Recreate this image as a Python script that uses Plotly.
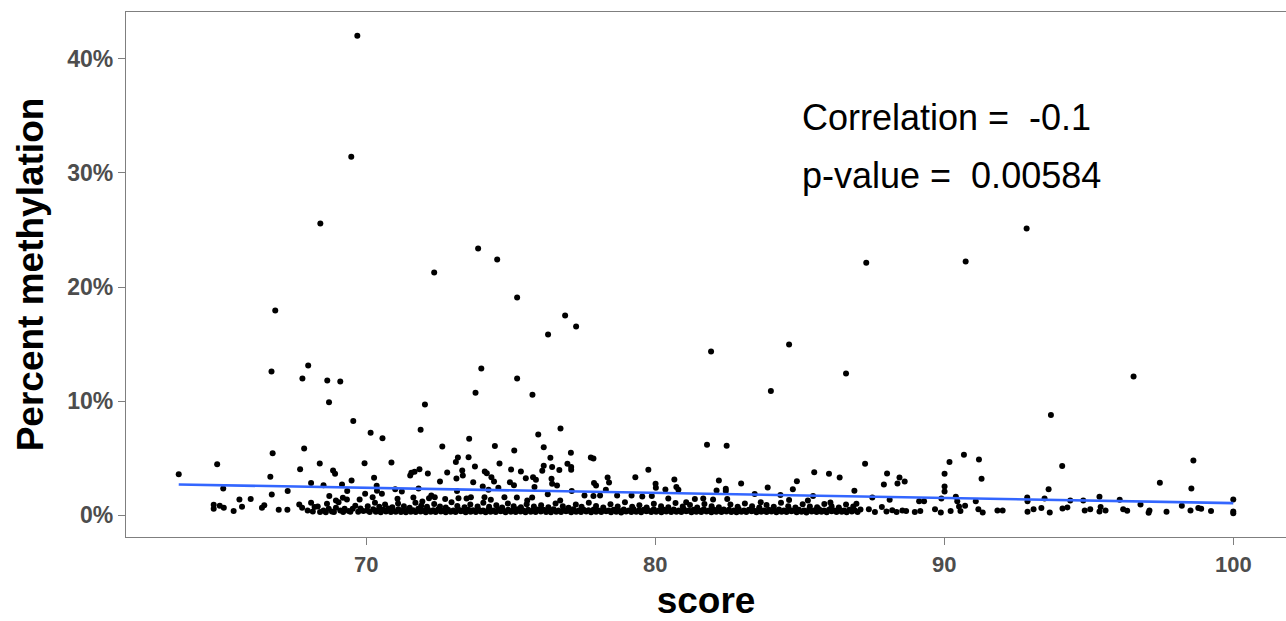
import numpy as np
import plotly.graph_objects as go

# ---- high outliers (score, percent methylation) ----
high_score = [69.69, 69.48, 68.41, 72.35, 73.87, 74.53, 75.22, 76.29, 76.88, 77.26,
              66.85, 66.72, 67.99, 67.79, 68.65, 69.10, 68.71, 73.98, 75.22, 73.78,
              75.75, 72.03, 69.55, 70.15, 70.56, 71.88, 81.93, 84.63, 84.00, 86.60,
              87.30, 90.74, 92.85, 93.69, 96.55, 76.72, 75.95, 81.79, 82.47, 76.14,
              66.76, 67.85, 72.63, 73.56, 74.45, 75.12, 77.08, 73.17, 73.54, 76.37,
              77.77, 90.68]
high_pct = [42.0, 31.42, 25.56, 21.27, 23.37, 22.41, 19.08, 15.84, 17.51, 16.54,
            17.94, 12.60, 13.13, 11.99, 11.82, 11.73, 9.92, 12.87, 11.99, 10.75,
            10.57, 9.72, 8.28, 7.25, 6.75, 7.50, 14.35, 14.97, 10.90, 12.43,
            22.14, 22.23, 25.12, 8.80, 12.17, 7.61, 7.09, 6.19, 6.10, 5.98,
            5.45, 5.86, 6.04, 6.71, 6.07, 5.69, 5.49, 5.08, 5.10, 5.05,
            5.08, 5.31]

# ---- middle band ----
mid_score = [63.51, 64.84, 65.05, 65.61, 66.00, 66.68, 66.73, 67.28, 67.71, 68.09,
             68.39, 68.52, 68.72, 68.85, 68.92, 69.16, 69.49, 69.34, 69.19, 68.95,
             69.33,
             69.94, 70.87, 70.27, 70.36, 73.10, 73.76, 74.61, 75.01, 75.35, 71.56,
             71.67, 71.84, 72.13, 71.52, 72.55, 72.80, 73.12, 73.32, 73.34, 73.70,
             74.10, 74.17, 74.33, 74.42, 74.97, 75.11, 75.52, 75.77, 75.87, 75.82,
             74.03, 74.23, 74.57, 71.23, 71.81, 71.00, 72.25, 70.54, 69.96, 70.22,
             69.77, 71.08, 71.63, 71.94, 72.17, 72.37, 72.73, 73.19, 73.47, 73.62,
             74.09, 74.31, 74.78, 75.21, 75.57, 75.74, 73.14, 70.37,
             76.96, 77.09, 77.09, 76.14, 76.43, 76.68, 76.09, 76.41, 76.43, 76.60,
             79.76, 79.31, 77.88, 77.95, 78.35, 78.40, 80.01, 80.02, 80.66, 80.73,
             80.80, 80.35, 82.20, 82.12, 77.11, 76.28, 76.71, 77.55, 77.86, 78.09,
             78.29, 78.68, 79.18, 79.55, 79.88, 80.45, 81.07, 81.37, 81.66, 82.00,
             77.86,
             82.97, 82.44, 83.44, 83.89, 84.33, 84.76, 84.90, 85.50, 86.01, 86.38,
             87.26, 86.89, 87.51, 88.02, 87.91, 88.38, 88.45, 88.63, 88.11, 85.46,
             84.63, 85.28, 86.06, 86.96, 82.49, 83.65, 82.44,
             91.20, 90.18, 90.01, 91.29, 90.01, 90.01, 93.61, 89.13, 89.30, 89.90,
             90.40, 90.45, 91.09, 92.87, 92.88, 93.47, 94.36, 94.81, 94.08,
             98.62, 97.46, 98.55, 100.0, 95.37, 96.07]
mid_pct = [3.61, 4.49, 2.36, 1.40, 1.43, 3.39, 1.84, 2.13, 4.05, 2.83,
           4.55, 2.65, 1.69, 3.94, 3.65, 2.71, 3.06, 2.13, 1.55, 1.31,
           1.40,
           4.58, 4.64, 3.30, 2.60, 4.67, 4.29, 4.55, 4.03, 3.85, 3.74,
           3.82, 4.05, 3.68, 3.50, 2.98, 3.76, 3.24, 3.94, 3.50, 2.91,
           3.85, 3.70, 3.35, 2.98, 2.91, 2.65, 3.26, 3.35, 3.12, 2.48,
           2.54, 2.25, 2.42, 2.10, 2.36, 2.30, 1.75, 1.90, 1.90, 1.60,
           1.40, 1.46, 1.58, 1.23, 1.51, 1.60, 1.43, 1.51, 1.49, 1.60,
           1.60, 1.37, 1.60, 1.58, 1.31, 1.58, 2.13, 2.16,
           4.52, 4.23, 4.00, 4.35, 4.23, 3.97, 3.91, 3.21, 2.77, 2.63,
           4.00, 3.35, 2.83, 2.63, 3.33, 2.89, 2.77, 2.42, 3.15, 2.48,
           2.25, 2.28, 3.06, 2.19, 2.13, 1.86, 1.31, 1.75, 1.69, 1.75,
           2.25, 1.75, 1.75, 1.66, 1.69, 1.49, 1.16, 1.43, 1.49, 1.40,
           4.99,
           2.80, 2.34, 1.87, 2.45, 1.78, 2.30, 3.00, 3.79, 3.65, 3.33,
           4.52, 2.16, 1.58, 3.68, 2.71, 2.80, 3.33, 2.98, 1.37, 1.69,
           1.34, 1.31, 1.14, 1.02, 1.43, 1.16, 2.13,
           4.90, 4.67, 3.65, 3.21, 2.54, 2.10, 2.30, 1.25, 1.25, 1.49,
           1.64, 1.25, 1.25, 1.58, 1.25, 1.49, 1.31, 1.31, 4.33,
           4.81, 2.86, 2.36, 1.40, 1.64, 1.37]

# ---- low band (below ~1.2 %) ----
low_score = [64.72, 64.72, 64.93, 65.07, 65.41, 65.70, 66.39, 66.47, 66.97, 67.27,
             67.68, 67.78, 67.97, 68.09, 68.21, 68.32, 68.52, 68.70, 68.81, 68.95,
             69.10, 69.25, 69.39, 69.53, 68.64, 69.04,
             68.15, 68.40, 68.60, 68.88, 69.20, 69.45, 69.62, 69.72, 69.80, 69.90,
             70.03, 70.12, 70.24, 70.33, 70.41, 70.50, 70.59, 70.68, 70.76, 70.85,
             70.93, 71.02, 71.11, 71.20, 71.28, 71.37, 71.45, 71.54, 71.62, 71.71,
             71.80, 71.88, 71.97, 72.06, 72.14, 72.23, 72.32, 72.40, 72.49, 72.58,
             72.66, 72.75, 72.83, 72.92, 73.01, 73.09, 73.18, 73.27, 73.35, 73.44,
             73.53, 73.61, 73.70, 73.79, 73.87, 73.96, 74.04, 74.13, 74.22, 74.30,
             74.39, 74.48, 74.56, 74.65, 74.74, 74.82, 74.91, 75.00, 75.08, 75.17,
             75.25, 75.34, 75.43, 75.51, 75.60, 75.69, 75.77, 75.86, 75.95,
             70.05, 70.30, 70.45, 70.65, 70.90, 71.10, 71.30, 71.50, 71.70, 71.90,
             72.10, 72.35, 72.55, 72.75, 72.95, 73.15, 73.40, 73.60, 73.85, 74.05,
             74.25, 74.50, 74.70, 74.90, 75.10, 75.35, 75.55, 75.80,
             76.04, 76.13, 76.22, 76.31, 76.39, 76.48, 76.57, 76.65, 76.74, 76.83,
             76.91, 77.00, 77.09, 77.17, 77.26, 77.35, 77.43, 77.52, 77.61, 77.69,
             77.78, 77.87, 77.95, 78.04, 78.13, 78.21, 78.30, 78.39, 78.47, 78.56,
             78.65, 78.73, 78.82, 78.91, 78.99, 79.08, 79.17, 79.25, 79.34, 79.43,
             79.51, 79.60, 79.69, 79.77, 79.86, 79.95, 80.03, 80.12, 80.21, 80.29,
             80.38, 80.47, 80.55, 80.64, 80.73, 80.81, 80.90, 80.99, 81.07, 81.16,
             81.25, 81.33, 81.42, 81.51, 81.59, 81.68, 81.77, 81.85, 81.94, 82.03,
             82.11, 82.20, 82.29, 82.37,
             76.05, 76.30, 76.55, 76.80, 77.00, 77.25, 77.45, 77.70, 77.95, 78.20,
             78.45, 78.70, 78.95, 79.20, 79.45, 79.70, 79.95, 80.20, 80.45, 80.70,
             80.95, 81.20, 81.45, 81.70, 81.95, 82.20,
             82.46, 82.55, 82.63, 82.72, 82.81, 82.89, 82.98, 83.07, 83.15, 83.24,
             83.33, 83.41, 83.50, 83.59, 83.67, 83.76, 83.85, 83.93, 84.02, 84.11,
             84.19, 84.28, 84.37, 84.45, 84.54, 84.63, 84.71, 84.80, 84.89, 84.97,
             85.06, 85.15, 85.23, 85.32, 85.41, 85.49, 85.58, 85.67, 85.75, 85.84,
             85.93, 86.01, 86.10, 86.19, 86.27, 86.36, 86.45, 86.53, 86.62, 86.71,
             86.80, 86.90, 87.00, 87.10,
             82.60, 82.85, 83.10, 83.35, 83.60, 83.85, 84.10, 84.35, 84.60, 84.85,
             85.10, 85.35, 85.60, 85.85, 86.10, 86.35, 86.60, 86.85,
             87.39, 87.60, 87.84, 88.00, 88.20, 88.35, 88.55,
             90.51, 90.72, 91.18, 91.33, 90.56, 90.22, 89.88, 89.68, 89.17, 88.98,
             88.68, 91.84, 92.02, 92.88, 93.09, 93.36, 93.65, 94.09, 94.26, 94.86,
             95.05,
             100.0, 100.0, 95.41, 95.37, 95.58, 96.19, 96.33, 96.79, 97.10, 97.07,
             97.69, 98.22, 98.52, 98.79, 98.89, 99.23]
low_pct = [0.94, 0.59, 0.85, 0.67, 0.38, 0.76, 0.67, 0.88, 0.50, 0.50,
           0.96, 0.67, 0.44, 1.11, 0.73, 0.79, 0.44, 0.59, 0.35, 0.67,
           0.44, 0.59, 0.38, 0.59, 1.02, 1.16,
           0.35, 0.30, 0.28, 0.30, 0.30, 0.32, 0.85, 0.32, 0.60, 0.38,
           0.42, 0.30, 0.55, 0.33, 0.45, 0.28, 0.50, 0.35, 0.60, 0.30,
           0.44, 0.32, 0.55, 0.30, 0.42, 0.27, 0.50, 0.33, 0.45, 0.30,
           0.58, 0.35, 0.42, 0.28, 0.50, 0.33, 0.45, 0.30, 0.55, 0.35,
           0.42, 0.28, 0.50, 0.33, 0.44, 0.30, 0.55, 0.36, 0.42, 0.28,
           0.50, 0.33, 0.45, 0.30, 0.55, 0.35, 0.42, 0.28, 0.50, 0.33,
           0.44, 0.30, 0.55, 0.36, 0.42, 0.28, 0.50, 0.33, 0.45, 0.30,
           0.55, 0.35, 0.42, 0.28, 0.50, 0.33, 0.45, 0.30, 0.52,
           0.80, 1.10, 0.75, 0.95, 0.72, 1.05, 0.80, 0.68, 1.10, 0.85,
           0.75, 1.00, 0.78, 0.70, 1.15, 0.82, 0.72, 0.95, 0.78, 1.12,
           0.75, 0.90, 0.70, 1.05, 0.80, 0.72, 0.98, 0.78,
           0.35, 0.50, 0.30, 0.44, 0.28, 0.55, 0.33, 0.42, 0.30, 0.50,
           0.36, 0.44, 0.28, 0.55, 0.33, 0.42, 0.30, 0.50, 0.35, 0.45,
           0.28, 0.52, 0.33, 0.42, 0.30, 0.55, 0.36, 0.44, 0.28, 0.50,
           0.33, 0.42, 0.25, 0.52, 0.35, 0.44, 0.30, 0.55, 0.33, 0.42,
           0.28, 0.50, 0.36, 0.44, 0.30, 0.55, 0.33, 0.42, 0.28, 0.50,
           0.35, 0.45, 0.30, 0.52, 0.33, 0.42, 0.30, 0.55, 0.36, 0.44,
           0.28, 0.50, 0.33, 0.42, 0.30, 0.55, 0.35, 0.44, 0.28, 0.50,
           0.33, 0.42, 0.30, 0.52,
           0.90, 0.72, 1.05, 0.80, 0.68, 0.95, 0.75, 1.10, 0.82, 0.70,
           0.98, 0.78, 1.15, 0.75, 0.90, 0.70, 1.02, 0.80, 0.72, 1.08,
           0.78, 0.92, 0.70, 1.00, 0.80, 0.72,
           0.35, 0.50, 0.30, 0.44, 0.28, 0.55, 0.33, 0.42, 0.30, 0.50,
           0.36, 0.44, 0.28, 0.55, 0.33, 0.42, 0.30, 0.50, 0.35, 0.45,
           0.28, 0.52, 0.33, 0.42, 0.30, 0.55, 0.36, 0.44, 0.28, 0.50,
           0.33, 0.42, 0.25, 0.52, 0.35, 0.44, 0.30, 0.55, 0.33, 0.42,
           0.28, 0.50, 0.36, 0.44, 0.30, 0.55, 0.33, 0.42, 0.28, 0.50,
           0.35, 0.45, 0.30, 0.52,
           0.95, 0.75, 1.05, 0.80, 0.70, 0.92, 0.75, 1.10, 0.80, 0.70,
           0.98, 0.78, 0.72, 1.00, 0.80, 0.70, 0.95, 0.78,
           0.55, 0.30, 0.73, 0.35, 0.45, 0.30, 0.42,
           0.79, 0.85, 0.55, 0.26, 0.38, 0.38, 0.26, 0.55, 0.38, 0.29,
           0.38, 0.44, 0.44, 0.32, 0.55, 0.64, 0.26, 0.61, 0.70, 0.44,
           0.53,
           0.35, 0.20, 0.73, 0.35, 0.44, 0.53, 0.41, 0.96, 0.44, 0.24,
           0.32, 0.85, 0.44, 0.64, 0.59, 0.38]

# ---- linear trend line (lm fit) ----
fit_score = [63.51, 100.0]
fit_pct = [2.71, 1.08]

# ---- tick labels and annotation text ----
y_tickvals = [0, 10, 20, 30, 40]
y_ticktext = ["0%", "10%", "20%", "30%", "40%"]
x_tickvals = [70, 80, 90, 100]
corr_text = "Correlation =\u00a0 -0.1"
pval_text = "p-value =\u00a0 0.00584"

score = np.array(high_score + mid_score + low_score, dtype=float)
pct = np.array(high_pct + mid_pct + low_pct, dtype=float)

FONT = "Liberation Sans, Arial, Helvetica, sans-serif"
AXIS_GREY = "#7f7f7f"

fig = go.Figure()
fig.add_trace(go.Scatter(
    x=score, y=pct, mode="markers",
    marker=dict(color="black", size=6, line=dict(width=0)),
    showlegend=False, hoverinfo="x+y"))
fig.add_trace(go.Scatter(
    x=fit_score, y=fit_pct, mode="lines",
    line=dict(color="#3366FF", width=2.6),
    showlegend=False, hoverinfo="skip"))

xspan = score.max() - score.min()
yspan = pct.max() - pct.min()

fig.update_layout(
    width=1286, height=621,
    margin=dict(l=126, r=0, t=12, b=84),
    paper_bgcolor="white", plot_bgcolor="white",
    font=dict(family=FONT, color="black"),
    xaxis=dict(
        range=[score.min() - 0.05 * xspan, score.max() + 0.05 * xspan],
        tickvals=x_tickvals,
        showgrid=False, zeroline=False,
        showline=True, mirror=True, linecolor=AXIS_GREY, linewidth=1.2,
        ticks="outside", ticklen=7, tickcolor=AXIS_GREY, tickwidth=1.2,
        tickfont=dict(size=22, color="#4d4d4d", family=FONT, weight="bold"),
        title=dict(text="score", standoff=12,
                   font=dict(size=37, color="black", family=FONT, weight="bold")),
    ),
    yaxis=dict(
        range=[pct.min() - 0.05 * yspan, pct.max() + 0.05 * yspan],
        tickvals=y_tickvals, ticktext=y_ticktext,
        showgrid=False, zeroline=False,
        showline=True, mirror=True, linecolor=AXIS_GREY, linewidth=1.2,
        ticks="outside", ticklen=7, tickcolor=AXIS_GREY, tickwidth=1.2,
        tickfont=dict(size=23, color="#4d4d4d", family=FONT, weight="bold"),
        title=dict(text="Percent methylation", standoff=12,
                   font=dict(size=37, color="black", family=FONT, weight="bold")),
    ),
    annotations=[
        dict(x=85.0, y=34.84, xref="x", yref="y", text=corr_text,
             showarrow=False, xanchor="left", yanchor="middle",
             font=dict(size=36, color="black", family=FONT)),
        dict(x=85.0, y=29.76, xref="x", yref="y", text=pval_text,
             showarrow=False, xanchor="left", yanchor="middle",
             font=dict(size=36, color="black", family=FONT)),
    ],
)

fig.write_html("out.html")
